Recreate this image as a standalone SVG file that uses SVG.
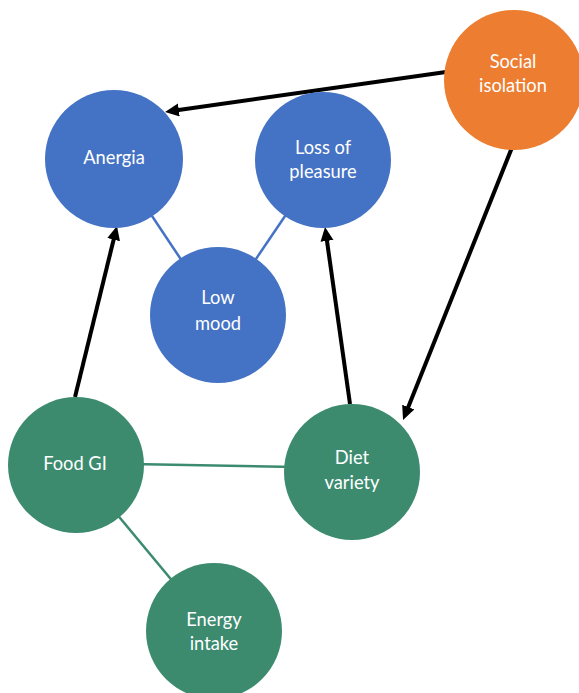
<svg xmlns="http://www.w3.org/2000/svg" width="579" height="693" viewBox="0 0 579 693">
<defs>
<marker id="ah" markerUnits="userSpaceOnUse" markerWidth="16" markerHeight="14" refX="2" refY="6.5" orient="auto">
<path d="M0,0 L14,6.5 L0,13 z" fill="#000"/>
</marker>
</defs>
<style>
.blue{fill:#4472C4}
.orange{fill:#ED7D31}
.green{fill:#3C8B6F}
.lb{font-family:Lato,"Open Sans","Liberation Sans",sans-serif;font-size:18.3px;fill:#fff;text-anchor:middle}
.arrow{stroke:#000;stroke-width:4;fill:none;marker-end:url(#ah)}
.eb{stroke:#4472C4;stroke-width:2.5}
.eg{stroke:#3C8B6F;stroke-width:2.5}
</style>
<rect width="579" height="693" fill="#fff"/>
<g id="connectors">
<line class="eb" x1="114" y1="159" x2="218" y2="315"/>
<line class="eb" x1="323" y1="160" x2="218" y2="315"/>
<line class="eg" x1="76" y1="463" x2="352" y2="468"/>
<line class="eg" x1="76" y1="465" x2="214" y2="631"/>
<line class="arrow" x1="446" y1="72" x2="176.9" y2="110.3"/>
<line class="arrow" x1="515" y1="140" x2="407.5" y2="408.9"/>
<line class="arrow" x1="75" y1="397" x2="114.1" y2="237.7"/>
<line class="arrow" x1="350" y1="404" x2="326.7" y2="238.9"/>
</g>
<g id="social-isolation"><circle class="orange" cx="514" cy="80" r="70"/><text class="lb" x="513" y="68">Social</text><text class="lb" x="513" y="92">isolation</text></g>
<g id="anergia"><circle class="blue" cx="114" cy="159" r="69"/><text class="lb" x="114" y="164">Anergia</text></g>
<g id="loss-of-pleasure"><circle class="blue" cx="323" cy="160" r="68"/><text class="lb" x="323" y="154">Loss of</text><text class="lb" x="323" y="178">pleasure</text></g>
<g id="low-mood"><circle class="blue" cx="218" cy="315" r="68"/><text class="lb" x="218" y="304">Low</text><text class="lb" x="218" y="330">mood</text></g>
<g id="food-gi"><circle class="green" cx="76" cy="465" r="68"/><text class="lb" x="75" y="470">Food GI</text></g>
<g id="diet-variety"><circle class="green" cx="352" cy="472" r="68"/><text class="lb" x="352" y="464">Diet</text><text class="lb" x="352" y="489">variety</text></g>
<g id="energy-intake"><circle class="green" cx="214" cy="631" r="68"/><text class="lb" x="214" y="626">Energy</text><text class="lb" x="214" y="650">intake</text></g>
</svg>
